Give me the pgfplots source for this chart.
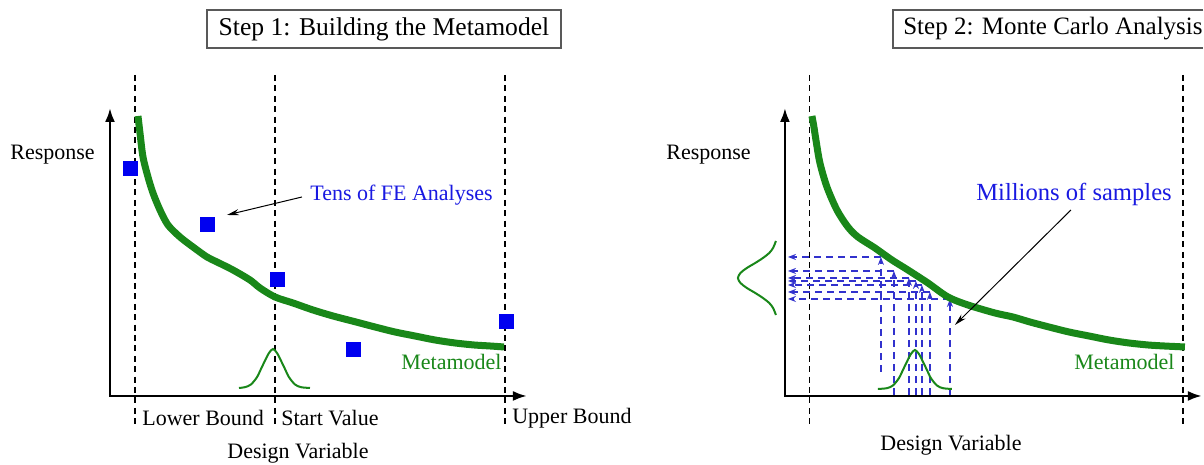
\documentclass[border=0pt]{standalone}
\usepackage{fontspec}
\setmainfont{Liberation Serif}
\usepackage{pgfplots}
\pgfplotsset{compat=1.18}
\usetikzlibrary{arrows.meta}

\definecolor{mgreen}{RGB}{25,135,25}
\definecolor{sblue}{RGB}{0,0,240}
\definecolor{tblue}{RGB}{25,25,225}
\definecolor{dblue}{RGB}{50,50,205}

\begin{document}
\begin{tikzpicture}[
  guide/.style={black, line width=0.6pt, dash pattern=on 3pt off 2.2pt},
  frame/.style={black, line width=1.25pt, {Latex[length=7pt,width=5pt]}-{Latex[length=7pt,width=5pt]}},
  meta/.style={mgreen, line width=3.5pt, smooth},
  bell/.style={mgreen, line width=1pt, smooth},
  samp/.style={dblue, line width=0.7pt, dash pattern=on 3.5pt off 2.5pt, -{Stealth[length=4pt,width=3pt]}},
  note/.style={black, line width=0.5pt, -{Stealth[length=6pt,width=3pt]}},
  lbl/.style={font=\fontsize{11}{13}\selectfont, inner sep=0pt, anchor=west},
]
\begin{axis}[
  scale only axis, width=602pt, height=232.5pt,
  xmin=0, xmax=1204, ymin=0, ymax=465, y dir=reverse,
  axis lines=none, clip=false,
]
\path (rel axis cs:0,0) rectangle (rel axis cs:1,1);

% ---------- Step 1 ----------
\addplot[guide] coordinates {(135,75)(135,425)};
\addplot[guide] coordinates {(275,75)(275,425)};
\addplot[guide] coordinates {(505,75)(505,425)};
\addplot[frame] coordinates {(110,108)(110,396)(527,396)};

\addplot[meta] coordinates {(138,116)(140,133)(143,157)(148,177)(153,193)(160,210)(168,225)
  (180,237)(193,247)(207,257)(217,262)(233,270)(250,280)(260,288)(275,297)(293,303)
  (313,310)(333,316)(356,322)(375,327)(395,332)(415,336)(435,340)(455,343)(474,345)
  (490,346)(504,347)};

\addplot[bell] coordinates {(239,388)(245,387.2)(251,384.5)(257,377.2)(261,369)(265,360.7)
  (269,353)(273,349)(277,353)(281,360.7)(285,369)(289,377.2)(295,384.5)(301,387.2)(310,388)};

\addplot[only marks, mark=square*, mark size=3.5pt, sblue] coordinates {
  (130,168)(207,224)(277,279)(353,349)(506,321)};

\addplot[note] coordinates {(302,197)(227,215)};

\draw[gray!70!black, line width=0.6pt] (axis cs:207,10) rectangle (axis cs:561,48);
\node[font=\fontsize{12.8}{15}\selectfont, inner sep=0pt] at (axis cs:384,29) {Step 1: Building the Metamodel};
\node[lbl] at (axis cs:10,155) {Response};
\node[lbl, text=tblue] at (axis cs:310,195) {Tens of FE Analyses};
\node[lbl, text=mgreen] at (axis cs:401,362) {Metamodel};
\node[lbl] at (axis cs:142,418) {Lower Bound};
\node[lbl] at (axis cs:281,418) {Start Value};
\node[lbl] at (axis cs:512,418) {Upper Bound};
\node[font=\fontsize{11}{13}\selectfont, inner sep=0pt] at (axis cs:298,453) {Design Variable};

% ---------- Step 2 ----------
\addplot[guide] coordinates {(809.5,75)(809.5,425)};
\addplot[guide] coordinates {(1183,75)(1183,425)};
\addplot[frame] coordinates {(785,108)(785,396)(1202,396)};

% sampled designs: up to the metamodel, then across to the response axis
\addplot[samp] coordinates {(881,372)(881,257)};
\addplot[samp] coordinates {(894,395)(894,271)};
\addplot[samp] coordinates {(909,395)(909,278)};
\addplot[samp] coordinates {(916,395)(916,281)};
\addplot[samp] coordinates {(922,395)(922,285)};
\addplot[samp] coordinates {(930,395)(930,292)};
\addplot[samp] coordinates {(950,395)(950,299)};
\addplot[samp] coordinates {(881,257)(788,257)};
\addplot[samp] coordinates {(894,271)(788,271)};
\addplot[samp] coordinates {(909,278)(788,278)};
\addplot[samp] coordinates {(916,281)(788,281)};
\addplot[samp] coordinates {(922,285)(788,285)};
\addplot[samp] coordinates {(930,292)(788,292)};
\addplot[samp] coordinates {(950,299)(788,299)};

\addplot[meta] coordinates {(812,116)(814,127)(816,140)(820,163)(827,187)(837,210)(848,227)
  (858,237)(875,248)(892,260)(908,270)(928,283)(948,297)(968,305)(995,313)(1013,317)
  (1030,322)(1049,327)(1069,332)(1089,336)(1109,340)(1129,343)(1148,345)(1164,346)(1185,347)};

\addplot[bell] coordinates {(878,389)(887,388.2)(893,385.5)(899,378.2)(903,370)(907,361.7)
  (911,354)(915,350)(919,354)(923,361.7)(927,370)(931,378.2)(937,385.5)(943,388.2)(952,389)};
\addplot[bell] coordinates {(776,241)(773.1,248)(769.3,253)(763,258)(755.3,263)(746.9,268)
  (740.5,273)(738,278)(740.5,283)(746.9,288)(755.3,293)(763,298)(769.3,303)(773.1,308)(776,315)};

\addplot[note] coordinates {(1071,210)(955,325)};

\draw[gray!70!black, line width=0.6pt] (axis cs:1203.5,10) -- (axis cs:893,10) -- (axis cs:893,48) -- (axis cs:1203.5,48);
\node[font=\fontsize{12.5}{15}\selectfont, inner sep=0pt, anchor=west] at (axis cs:903,29) {Step 2: Monte Carlo Analysis};
\node[lbl] at (axis cs:666,155) {Response};
\node[lbl, text=tblue, font=\fontsize{12.3}{14}\selectfont] at (axis cs:976,194) {Millions of samples};
\node[lbl, text=mgreen] at (axis cs:1074,362) {Metamodel};
\node[font=\fontsize{11}{13}\selectfont, inner sep=0pt] at (axis cs:951,445) {Design Variable};
\end{axis}
\end{tikzpicture}
\end{document}
